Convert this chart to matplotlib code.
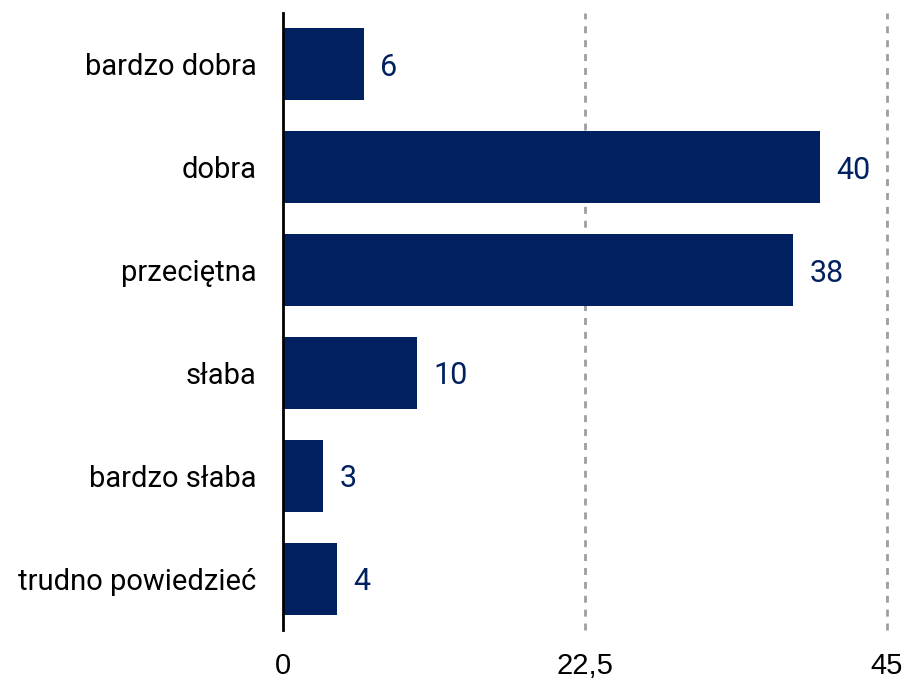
from matplotlib import pyplot as plt

categories = ['bardzo dobra', 'dobra', 'przeciętna', 'słaba', 'bardzo słaba', 'trudno powiedzieć']
values = [6, 40, 38, 10, 3, 4]
xticks = [0, 22.5, 45]
xtick_labels = ['0', '22,5', '45']

navy = '#002060'

fig = plt.figure(figsize=(9.09, 6.81), dpi=100)
ax = fig.add_axes([0.3113, 0.0749, 0.6645, 0.906])

ypos = list(range(len(categories)))
ax.barh(ypos, values, height=0.7, color=navy, zorder=3)

for y, v in zip(ypos, values):
    ax.annotate(str(v), (v, y), xytext=(12, 0), textcoords='offset points',
                va='center_baseline', ha='left', fontsize=22, color=navy, family='Roboto')

ax.set_xlim(0, 45)
ax.set_ylim(len(categories) - 0.5, -0.5)
ax.set_yticks(ypos)
ax.set_yticklabels(categories, fontsize=21, family='Roboto')
ax.set_xticks(xticks)
ax.set_xticklabels(xtick_labels, fontsize=21, family='Liberation Sans')
ax.tick_params(axis='both', length=0)
ax.tick_params(axis='x', pad=16)
ax.tick_params(axis='y', pad=19)

for x in xticks[1:]:
    ax.axvline(x, color='#9e9e9e', lw=2, ls=(0, (2.5, 2.5)), zorder=1, clip_on=False)

for s in ['top', 'right', 'bottom']:
    ax.spines[s].set_visible(False)
ax.spines['left'].set_linewidth(2)
ax.spines['left'].set_zorder(4)

plt.savefig('out.png')
